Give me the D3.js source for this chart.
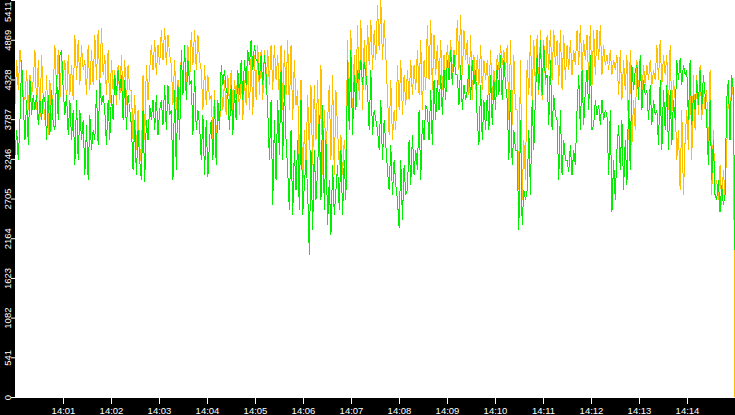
<!DOCTYPE html>
<html>
<head>
<meta charset="utf-8">
<script src="https://cdn.jsdelivr.net/npm/d3@7"></script>
<style>
  html, body { margin: 0; padding: 0; background: #fff; overflow: hidden; }
  svg { display: block; }
</style>
</head>
<body>
<div class="grafico"></div>
<script>
const d = document;

/* Datos */
const horaInicio = "14:00:00";
const horaFin = "14:15:00";
const etiquetasX = ["14:01", "14:02", "14:03", "14:04", "14:05", "14:06", "14:07", "14:08", "14:09", "14:10", "14:11", "14:12", "14:13", "14:14"];
const etiquetasY = [0, 541, 1082, 1623, 2164, 2705, 3246, 3787, 4328, 4869, 5411];
const maximoY = 5411;

// muestras equiespaciadas entre horaInicio y horaFin
const serieNaranja = [
  3980, 4593, 4184, 4729, 4457, 4116, 4048, 4457, 3912, 4389, 4116, 4321, 4729, 3912, 4593, 3775, 4661, 4048,
  3775, 4389, 3571, 4321, 3639, 4184, 4798, 4184, 4729, 4048, 4593, 4321, 4593, 3980, 4661, 4116, 4525, 4048,
  4934, 4321, 4866, 4252, 4798, 4457, 4593, 4116, 4798, 4184, 4729, 4252, 4934, 4321, 5002, 4252, 5029, 4389,
  4661, 4116, 4729, 3912, 4593, 4184, 4457, 3980, 4525, 4048,
  4661, 4048, 4593, 3980, 4525, 4184, 4184, 3503, 4116, 3366, 3912, 3435, 3162, 4389, 3503, 4525, 4048, 4457,
  4798, 4457, 4866, 4389, 4798, 4525, 5002, 4593, 5029, 4525, 4934, 4661, 4525, 3980, 4593, 3912, 4321, 4048,
  4661, 4184, 4798, 4116, 4798, 4252, 4975, 4525, 5002, 4457, 4934, 4593, 4457, 3912, 4525, 3980, 4389, 4048,
  4116, 3503, 4184, 3366, 4048, 3639, 4252, 3912, 4321, 3844,
  4389, 3980, 4457, 3912, 4321, 4048, 4457, 3844, 4525, 3775, 4321, 3980, 4525, 3912, 4661, 3844, 4661, 4048,
  4798, 4116, 4729, 4048, 4729, 4184, 4729, 4252, 4798, 4184, 4798, 4321, 4661, 4048, 4798, 3912, 4729, 4116,
  4866, 3912, 4798, 3775, 4593, 3980, 4184, 3094, 4321, 2821, 3639, 3162, 4116, 3366, 4252, 3162, 4252, 3503,
  4321, 3230, 4525, 3026, 3912, 3366, 3775, 4252, 3230, 4389, 3026, 4184, 3639, 3162, 3571, 3026, 3503, 3230,
  4866, 3775, 5002, 3639, 4661, 4048, 5070, 4048, 5138, 3912, 4866, 4184, 5070, 4525, 5138, 4457, 5002, 4593,
  5343, 4729, 5411, 4593, 5138, 4661, 4116, 3571, 4321, 3503, 3912, 3639, 4525, 3912, 4593, 3844, 4389, 3980,
  4457, 4048, 4593, 4116, 4525, 4184, 4729, 4116, 4866, 3912, 4593, 4184, 5070, 4321, 5138, 4184, 4934, 4389,
  4798, 4252, 4866, 4184, 4661, 4321, 4798, 4457, 4866, 4389, 4729, 4525, 5138, 4457, 5207, 4389, 5002, 4593,
  4866, 4116, 4934, 4048, 4661, 4184, 4661, 4252, 4798, 4184, 4593, 4321, 4593, 4116, 4729, 4048, 4457, 4184,
  4661, 4457, 4798, 4525, 4729, 4457, 4798, 3775, 4866, 3707, 4661, 3912, 3912, 2821, 4593, 2685, 3503, 2958,
  4593, 4116, 4934, 4048, 4866, 4184, 4934, 4116, 5002, 4048, 4866, 4252, 4934, 4457, 5002, 4321, 5002, 4525,
  4866, 4252, 5002, 4184, 4934, 4321, 4798, 4457, 4866, 4389, 4729, 4525, 5002, 4525, 5070, 4457, 4866, 4593,
  4934, 4321, 5070, 4252, 5002, 4389, 5002, 4593, 5070, 4389, 4798, 4525, 4661, 4457, 4729, 4389, 4593, 4457,
  4661, 4116, 4729, 4048, 4593, 4184, 4661, 3503, 4729, 3435, 4048, 3639, 4593, 4184, 4661, 4116, 4525, 4252,
  4525, 4321, 4593, 4252, 4457, 4321, 4798, 4321, 4866, 4252, 4661, 4389, 4661, 3912, 4798, 3844, 4321, 4048,
  3230, 3639, 2821, 3912, 2753, 3503, 3912, 3366, 4593, 3230, 4389, 3639, 4389, 3844, 4525, 3775, 4184, 3912,
  4184, 3230, 4457, 2753, 3639, 2821, 2958, 2685, 3162, 2617, 3094, 2753, 3366, 4116, 3639, 4389, 4048, 0
];

const serieVerde = [
  3298, 3639, 3230, 3775, 4593, 3980, 3503, 4048, 3435, 4321, 3844, 4116, 3912, 4116, 3707, 4048, 3775, 4116,
  4048, 3503, 4116, 3571, 4184, 3707, 3639, 4389, 3775, 4661, 4729, 4184, 3844, 4116, 3571, 4048, 3503, 3912,
  3162, 4048, 3230, 3912, 3503, 3775, 3026, 3707, 2958, 3844, 3366, 3639, 3503, 4184, 3435, 4321, 3980, 4116,
  3912, 3435, 4048, 3503, 4116, 3775, 4389, 4116, 4457, 4184,
  4389, 3775, 4321, 3639, 4116, 3912, 3707, 3094, 3775, 3026, 3639, 3230, 2958, 3912, 2930, 3775, 3503, 3980,
  3775, 4048, 3639, 4116, 3571, 3912, 4048, 3707, 4252, 3639, 4252, 3844, 3912, 2958, 4184, 3094, 4252, 3503,
  4729, 4116, 4798, 4048, 4593, 4252, 4321, 3571, 4457, 3639, 3912, 3707, 3230, 3844, 3026, 3775, 2999, 3503,
  3775, 3230, 4048, 3162, 4048, 3639, 4525, 4252, 4457, 4184,
  4116, 3639, 4252, 3571, 4184, 3775, 4457, 4116, 4593, 4048, 4593, 4252, 4729, 4525, 4866, 4457, 4798, 4593,
  4593, 4321, 4661, 4252, 4661, 4389, 3912, 3230, 4048, 2617, 3775, 2958, 4048, 3298, 4457, 3230, 4252, 3503,
  3094, 2549, 3639, 2481, 3366, 2821, 3503, 2549, 4048, 2481, 2889, 3230, 2821, 1935, 3366, 2276, 3366, 2685,
  3094, 3844, 2685, 3980, 2549, 3503, 2344, 2958, 2208, 3162, 2481, 2821, 3162, 2549, 3366, 2481, 3230, 2685,
  4593, 3639, 4729, 3571, 4389, 3912, 4457, 4321, 4593, 4252, 4566, 4389, 4184, 3639, 4457, 3571, 3912, 3775,
  3639, 3366, 4048, 3230, 3775, 3435, 3094, 2821, 3435, 2753, 3230, 2889, 2685, 2303, 3230, 2413, 3162, 2753,
  2821, 3503, 2889, 3571, 3026, 3366, 3094, 3912, 2958, 3775, 3503, 3980, 3912, 3503, 4184, 3435, 4321, 3775,
  4321, 3912, 4389, 3844, 4457, 4048, 4593, 4321, 4729, 4252, 4661, 4389, 4389, 3980, 4525, 3912, 4252, 4048,
  4184, 4525, 4048, 4593, 4252, 4457, 3775, 3435, 4252, 3503, 4048, 3639, 4116, 3639, 4389, 3707, 4321, 3912,
  4525, 4116, 4661, 4048, 4593, 4252, 4048, 3230, 4184, 3162, 3639, 3366, 3366, 2276, 3775, 2344, 2821, 2685,
  2821, 3639, 2753, 4048, 3366, 4116, 4661, 4184, 4866, 4116, 4798, 4321, 4389, 3707, 4593, 3639, 4116, 3844,
  3775, 2958, 3912, 3026, 3503, 3230, 3230, 3067, 3435, 3026, 3366, 3162, 3912, 4389, 3639, 4457, 3707, 4184,
  4457, 3912, 4661, 3639, 3707, 4048, 3844, 3980, 3707, 4048, 3775, 3912, 3844, 3026, 3912, 2521, 3230, 2685,
  3366, 3707, 3094, 3775, 2821, 3503, 2889, 4048, 3094, 4525, 4184, 4457, 4525, 4048, 4661, 3912, 4321, 4116,
  4184, 3775, 4252, 3707, 4048, 3844, 3912, 3435, 4321, 3366, 4184, 3639, 4252, 3366, 4184, 3435, 4048, 3775,
  4593, 4321, 4620, 4252, 4525, 4389, 4457, 3775, 4593, 3707, 4116, 3912, 4321, 3980, 4457, 3912, 4389, 4116,
  3775, 3162, 4048, 2958, 3503, 2753, 2685, 2958, 2521, 2889, 2617, 2753, 4048, 4321, 3503, 4389, 4184, 2003
];

/* Lienzo */
const width = 735;
const height = 415;
const izquierda = 15;
const base = 398;
const fuente = "'Liberation Sans', Arial, sans-serif";

const parseHora = d3.timeParse("%H:%M:%S");
const t0 = parseHora(horaInicio);
const t1 = parseHora(horaFin);

const x = d3.scaleTime().domain([t0, t1]).range([izquierda, width]);
const y = d3.scaleLinear().domain([0, maximoY]).range([397, 0]);

function conTiempo(serie) {
  const paso = (t1 - t0) / (serie.length - 1);
  return serie.map((v, i) => ({ t: new Date(+t0 + i * paso), v: v }));
}

const svg = d3.select(".grafico").append("svg").attr("width", width).attr("height", height);

// fondo del area de trazado y bandas negras de los ejes
svg.append("rect").attr("x", 0).attr("y", 0).attr("width", width).attr("height", height).attr("fill", "#fff");
svg.append("rect").attr("x", 0).attr("y", 0).attr("width", izquierda).attr("height", height).attr("fill", "#000");
svg.append("rect").attr("x", 0).attr("y", base).attr("width", width).attr("height", height - base).attr("fill", "#000");

// lineas (sin suavizado, trazo de un pixel)
const linea = d3.line().x((p) => x(p.t)).y((p) => y(p.v));

svg.append("path")
  .datum(conTiempo(serieNaranja))
  .attr("d", linea)
  .attr("fill", "none")
  .attr("stroke", "#ffc000")
  .attr("stroke-width", 1)
  .attr("stroke-linejoin", "bevel")
  .attr("shape-rendering", "crispEdges");

svg.append("path")
  .datum(conTiempo(serieVerde))
  .attr("d", linea)
  .attr("fill", "none")
  .attr("stroke", "#00f000")
  .attr("stroke-width", 1)
  .attr("stroke-linejoin", "bevel")
  .attr("shape-rendering", "crispEdges");

// eje X
const ejeX = d3.axisBottom(x)
  .tickValues(etiquetasX.map((s) => parseHora(s + ":00")))
  .tickFormat(d3.timeFormat("%H:%M"))
  .tickSize(6)
  .tickPadding(3);

const gX = svg.append("g").attr("transform", `translate(0,${base})`).call(ejeX);
gX.select(".domain").remove();
gX.selectAll(".tick line").attr("stroke", "#fff");
gX.selectAll(".tick text")
  .attr("fill", "#fff")
  .style("font-family", fuente)
  .style("font-size", "9.5px");

// eje Y con etiquetas giradas
const ejeY = d3.axisLeft(y)
  .tickValues(etiquetasY)
  .tickFormat(d3.format("d"))
  .tickSize(4);

const gY = svg.append("g").attr("transform", `translate(${izquierda},0)`).call(ejeY);
gY.select(".domain").remove();
gY.selectAll(".tick line").attr("stroke", "#fff");
gY.selectAll(".tick text")
  .attr("fill", "#fff")
  .attr("x", 0)
  .attr("dy", 0)
  .attr("text-anchor", (v) => (v === maximoY ? "end" : "middle"))
  .attr("transform", (v) => (v === maximoY ? "translate(-4,1) rotate(-90)" : "translate(-4,0) rotate(-90)"))
  .style("font-family", fuente)
  .style("font-size", "9.5px");
</script>
</body>
</html>
